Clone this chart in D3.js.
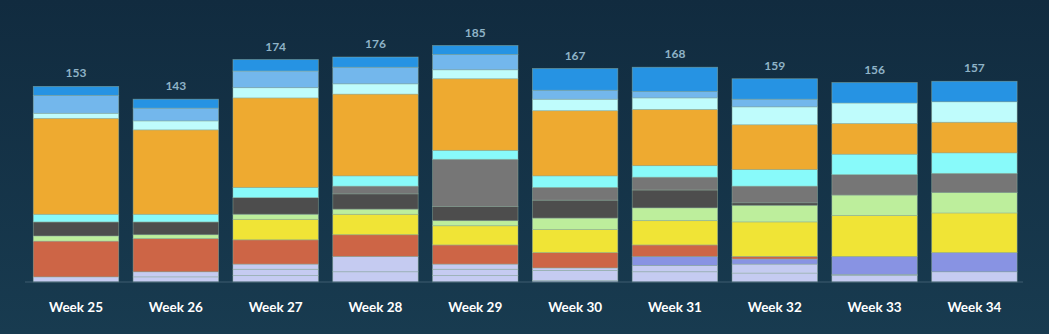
<!DOCTYPE html>
<html>
<head>
<meta charset="utf-8">
<title>Weekly stacked bars</title>
<script src="https://d3js.org/d3.v7.min.js"></script>
<style>
  html, body { margin: 0; padding: 0; }
  body {
    width: 1049px; height: 334px; overflow: hidden;
    background: linear-gradient(to bottom, #112b3f 0%, #183b50 100%);
  }
  svg text { font-family: Lato, "Open Sans", sans-serif; }
</style>
</head>
<body>
<div id="chart"></div>
<script>
// categories (x axis)
var weeks = ["Week 25", "Week 26", "Week 27", "Week 28", "Week 29",
             "Week 30", "Week 31", "Week 32", "Week 33", "Week 34"];

// series values, listed from the bottom of the stack to the top
var lav1      = [4, 4, 5, 8, 5, 1, 8, 7, 5, 8];
var lav2      = [0, 4, 5, 12, 5, 8, 5, 7, 1, 0];
var lav3      = [0, 0, 4, 0, 4, 2, 0, 0, 0, 0];
var periwinkle= [0, 0, 0, 0, 0, 0, 7, 4, 14, 15];
var red       = [28, 26, 19, 17, 15, 12, 9, 2, 0, 0];
var yellow    = [0, 0, 16, 16, 15, 18, 19, 27, 32, 31];
var green     = [4, 3, 4, 4, 4, 9, 10, 13, 16, 16];
var darkGrey  = [11, 10, 13, 12, 11, 14, 14, 2, 0, 0];
var grey      = [0, 0, 0, 6, 37, 10, 10, 13, 16, 15];
var cyan      = [6, 6, 8, 8, 7, 9, 9, 13, 16, 16];
var orange    = [75, 66, 70, 64, 56, 51, 44, 35, 24, 24];
var paleCyan  = [4, 7, 8, 8, 7, 9, 9, 14, 16, 16];
var lightBlue = [14, 10, 13, 13, 12, 7, 5, 6, 0, 0];
var blue      = [7, 7, 9, 8, 7, 17, 19, 16, 16, 16];

var seriesNames = ["lav1", "lav2", "lav3", "periwinkle", "red", "yellow", "green",
                   "darkGrey", "grey", "cyan", "orange", "paleCyan", "lightBlue", "blue"];
var seriesValues = [lav1, lav2, lav3, periwinkle, red, yellow, green,
                    darkGrey, grey, cyan, orange, paleCyan, lightBlue, blue];
var seriesColors = ["#c5cbf1", "#c5cbf1", "#c5cbf1", "#8893e3", "#cd6546", "#f0e436",
                    "#bdee9c", "#4d4d4d", "#767676", "#88fafa", "#eeaa30", "#bffcfc",
                    "#73b7ec", "#2693e3"];

// build rows for d3.stack
var rows = weeks.map(function (w, i) {
    var r = { week: w };
    seriesNames.forEach(function (s, j) { r[s] = seriesValues[j][i]; });
    return r;
});
var totals = rows.map(function (r) { return d3.sum(seriesNames, function (s) { return r[s]; }); });

var W = 1049, H = 334;
var svg = d3.select("#chart").append("svg")
    .attr("width", W).attr("height", H);

var x = d3.scaleBand()
    .domain(weeks)
    .range([33.3, 1017.1])
    .paddingInner(0.1445)
    .paddingOuter(0);

var y = d3.scaleLinear()
    .domain([0, 185])
    .range([282, 45.5]);

var color = d3.scaleOrdinal().domain(seriesNames).range(seriesColors);

var stacked = d3.stack().keys(seriesNames)(rows);

svg.append("g")
    .selectAll("g")
    .data(stacked)
    .join("g")
    .attr("fill", function (d) { return color(d.key); })
    .selectAll("rect")
    .data(function (d) { return d; })
    .join("rect")
    .filter(function (d) { return d[1] - d[0] > 0; })
    .attr("x", function (d) { return x(d.data.week); })
    .attr("y", function (d) { return y(d[1]); })
    .attr("width", x.bandwidth())
    .attr("height", function (d) { return y(d[0]) - y(d[1]); })
    .attr("stroke", "rgba(150,180,160,0.55)")
    .attr("stroke-width", 0.8);

// baseline axis (labels only from the axis, line drawn a bit wider than the bars)
var xAxis = svg.append("g")
    .attr("transform", "translate(0,282)")
    .call(d3.axisBottom(x).tickSize(0).tickPadding(20));
xAxis.select(".domain").remove();
xAxis.append("line")
    .attr("x1", 25).attr("x2", 1023)
    .attr("stroke", "#3f5d70").attr("stroke-width", 1);
xAxis.selectAll("text")
    .attr("fill", "#ffffff")
    .style("font-size", "13.5px")
    .style("font-weight", "700")
    .style("font-family", "Lato, 'Open Sans', sans-serif");

// totals above each bar
svg.append("g")
    .selectAll("text")
    .data(rows)
    .join("text")
    .attr("x", function (d) { return x(d.week) + x.bandwidth() / 2; })
    .attr("y", function (d, i) { return y(totals[i]) - 9; })
    .attr("text-anchor", "middle")
    .attr("fill", "#8fb3c7")
    .style("font-size", "12px")
    .style("font-weight", "700")
    .text(function (d, i) { return totals[i]; });
</script>
</body>
</html>
